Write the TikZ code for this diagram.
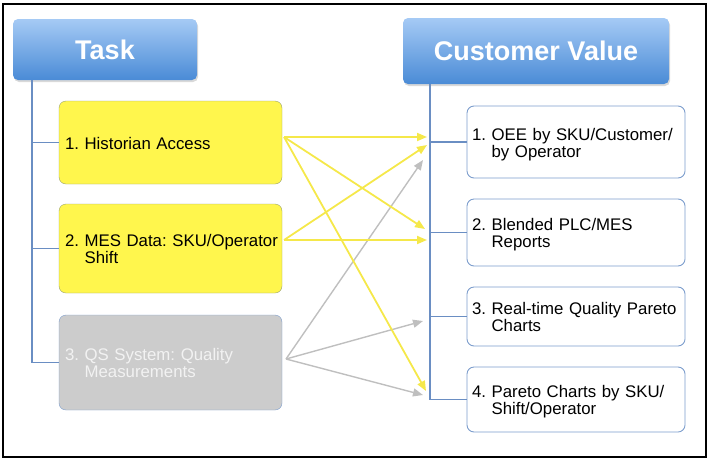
\documentclass[tikz,border=0pt]{standalone}
\usepackage{fontspec}
\setmainfont{Liberation Sans}
\usetikzlibrary{arrows.meta,shadows}
\definecolor{headtop}{HTML}{A5CAF5}
\definecolor{headbot}{HTML}{4A8BD6}
\definecolor{treeblue}{HTML}{6A8EC3}
\definecolor{boxyel}{HTML}{FFF64D}
\definecolor{yelline}{HTML}{9AA26E}
\definecolor{arryel}{HTML}{F5E84A}
\definecolor{boxgray}{HTML}{CCCCCC}
\definecolor{arrgray}{HTML}{BFBFBF}
\definecolor{valline}{HTML}{7C9DCD}
\frenchspacing
\newcommand\twoline[3]{\raisebox{-3pt}[\height][\depth]{\begin{tabular}{@{}l@{\ }l@{}}#1&#2\\&#3\end{tabular}}}
\begin{document}
\begin{tikzpicture}[x=1pt,y=-1pt,
	head/.style={rounded corners=5pt, top color=headtop, bottom color=headbot, text=white,
		font=\fontsize{27}{30}\selectfont\bfseries,
		drop shadow={opacity=.3, shadow xshift=1pt, shadow yshift=-2pt}},
	taskbox/.style={rounded corners=7pt, draw=yelline, fill=boxyel, minimum width=223,
		text width=211pt, inner xsep=6pt, align=left, font=\fontsize{16.8}{16.5}\selectfont},
	valbox/.style={rounded corners=7pt, draw=valline, line width=0.9pt, fill=white, minimum width=218,
		text width=208pt, inner xsep=5pt, align=left, font=\fontsize{16.8}{16.5}\selectfont},
	tree/.style={draw=treeblue, line width=1.3pt},
	yarr/.style={draw=arryel, line width=1.8pt, -{Triangle[length=10pt,width=8pt]}},
	garr/.style={draw=arrgray, line width=1.4pt, -{Triangle[length=10pt,width=8pt]}}]
	\useasboundingbox (0,0) rectangle (711,461);
	\draw[line width=1.2pt] (3,4) rectangle (706,457);

	\node[head, minimum width=184, minimum height=61] (task) at (105,49.5) {Task};
	\node[head, minimum width=266, minimum height=66] (value) at (536,51) {Customer Value};

	\node[taskbox, minimum height=83] (t1) at (170.5,142.5) {\raisebox{-1pt}[\height][\depth]{1. Historian Access}};
	\node[taskbox, minimum height=89] (t2) at (170.5,248.5) {\twoline{2.}{MES Data: SKU/Operator}{Shift}};
	\node[taskbox, minimum height=95, fill=boxgray, draw=valline, text=white!95!black] (t3) at (170.5,362.5)
		{\twoline{3.}{QS System: Quality}{Measurements}};

	\node[valbox, minimum height=72] (v1) at (576,142) {\twoline{1.}{OEE by SKU/Customer/}{by Operator}};
	\node[valbox, minimum height=67] (v2) at (576,232.5) {\twoline{2.}{Blended PLC/MES}{Reports}};
	\node[valbox, minimum height=59] (v3) at (576,316.5) {\twoline{3.}{Real-time Quality Pareto}{Charts}};
	\node[valbox, minimum height=65] (v4) at (576,399.5) {\twoline{4.}{Pareto Charts by SKU/}{Shift/Operator}};

	\coordinate (ltrunk) at (32,0);
	\coordinate (rtrunk) at (430,0);
	\draw[tree] (task.south -| ltrunk) |- (t3.west);
	\draw[tree] (t1.west -| ltrunk) -- (t1.west);
	\draw[tree] (t2.west -| ltrunk) -- (t2.west);
	\draw[tree] (value.south -| rtrunk) |- (v4.west);
	\foreach \v in {v1,v2,v3}
		\draw[tree] (\v.west -| rtrunk) -- (\v.west);

	\coordinate (s1) at (284,137);
	\coordinate (s2) at (284,240);
	\coordinate (s3) at (286,359);
	\draw[garr] (s3) -- (423,160);
	\draw[garr] (s3) -- (423,321);
	\draw[garr] (s3) -- (423,395);
	\draw[yarr] (s1) -- (427,137);
	\draw[yarr] (s1) -- (425,229);
	\draw[yarr] (s1) -- (426,391);
	\draw[yarr] (s2) -- (427,145);
	\draw[yarr] (s2) -- (427,240);
\end{tikzpicture}
\end{document}
